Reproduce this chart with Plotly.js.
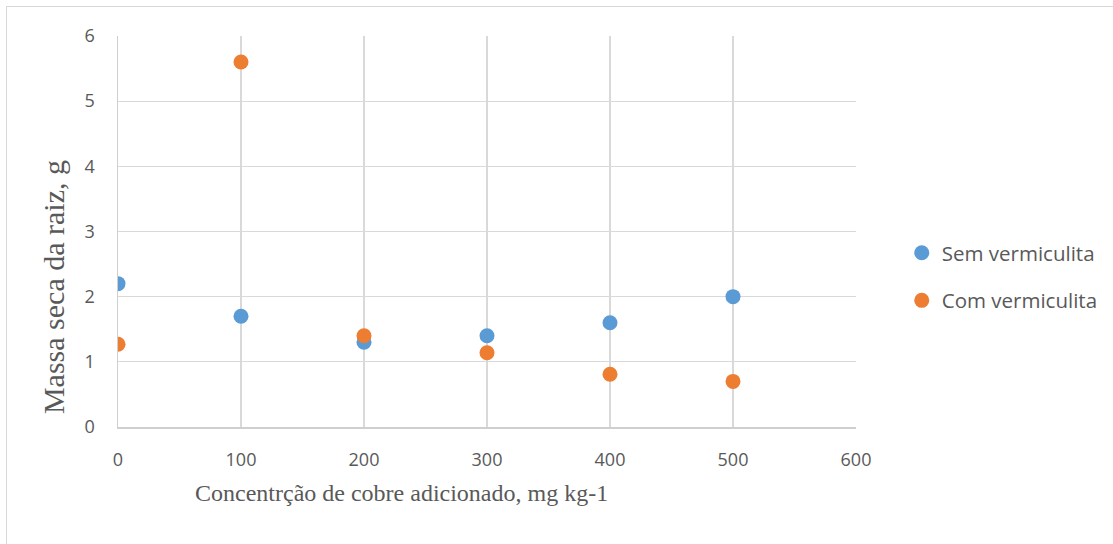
<!DOCTYPE html>
<html>
<head>
<meta charset="utf-8">
<script src="https://cdn.plot.ly/plotly-3.0.1.min.js"></script>
<style>
html,body{margin:0;padding:0;background:#fff;overflow:hidden;}
#wrap{position:relative;width:1113px;height:544px;}
#frame{position:absolute;left:6px;top:6px;width:1120px;height:560px;border:1px solid #d9d9d9;box-sizing:border-box;pointer-events:none;z-index:5;}
#chart{position:absolute;left:0;top:0;width:1113px;height:544px;}
</style>
</head>
<body>
<div id="wrap"><div id="chart"></div><div id="frame"></div></div>
<script>
const concentrations = [0, 100, 200, 300, 400, 500];
const semVermiculita = [2.2, 1.7, 1.3, 1.4, 1.6, 2.0];
const comVermiculita = [1.27, 5.6, 1.4, 1.14, 0.81, 0.70];
const seriesNames = ['Sem vermiculita', 'Com vermiculita'];
const xTickValues = [0, 100, 200, 300, 400, 500, 600];
const yTickValues = [0, 1, 2, 3, 4, 5, 6];
const xTitle = 'Concentrção de cobre adicionado, mg kg-1';
const yTitle = 'Massa seca da raiz, g';

const traces = [
  {x: concentrations, y: semVermiculita, name: seriesNames[0], type: 'scatter', mode: 'markers',
   legendgroup: 'a', marker: {color: '#5B9BD5', size: 15}},
  {x: concentrations, y: comVermiculita, name: seriesNames[1], type: 'scatter', mode: 'markers',
   legendgroup: 'b', marker: {color: '#ED7D31', size: 15}}
];

const layout = {
  width: 1113, height: 544,
  margin: {l: 118, r: 257, t: 36, b: 117, autoexpand: false},
  paper_bgcolor: '#ffffff', plot_bgcolor: '#ffffff',
  showlegend: true,
  legend: {x: 1.062, y: 0.384, xanchor: 'left', yanchor: 'middle', traceorder: 'grouped',
           tracegroupgap: 18, font: {family: 'Open Sans', size: 20.5, color: '#595959'}},
  xaxis: {
    range: [0, 600], tickvals: xTickValues, showgrid: true, gridcolor: '#d9d9d9', gridwidth: 1.3,
    showline: true, linecolor: '#cfcfcf', linewidth: 1.5, zeroline: false, automargin: false,
    ticks: 'outside', ticklen: 16, tickcolor: 'rgba(0,0,0,0)',
    tickfont: {family: 'Open Sans', size: 18, color: '#595959'}
  },
  yaxis: {
    range: [0, 6], tickvals: yTickValues, showgrid: true, gridcolor: '#d9d9d9', gridwidth: 1.3,
    showline: true, linecolor: '#cfcfcf', linewidth: 1.5, zeroline: false, automargin: false,
    ticks: 'outside', ticklen: 18, tickcolor: 'rgba(0,0,0,0)',
    tickfont: {family: 'Open Sans', size: 18, color: '#595959'}
  },
  annotations: [
    {text: xTitle, xref: 'paper', yref: 'paper', x: 0.3835, y: -0.169, xanchor: 'center', yanchor: 'middle',
     showarrow: false, font: {family: 'Liberation Serif', size: 24, color: '#595959'}},
    {text: yTitle, xref: 'paper', yref: 'paper', x: -0.088, y: 0.358, xanchor: 'center', yanchor: 'middle',
     textangle: -90, showarrow: false, font: {family: 'Liberation Serif', size: 30, color: '#595959'}}
  ]
};

Plotly.newPlot('chart', traces, layout, {displayModeBar: false, staticPlot: true});
</script>
</body>
</html>
